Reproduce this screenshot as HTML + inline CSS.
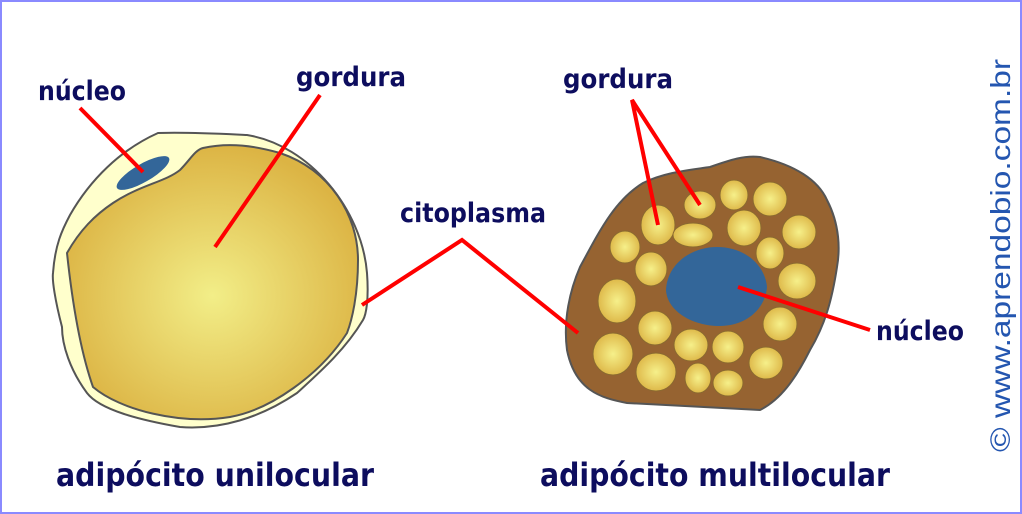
<!DOCTYPE html>
<html><head><meta charset="utf-8"><style>
html,body{margin:0;padding:0;background:#fff;}
svg{display:block;}
text{font-family:"DejaVu Sans","Liberation Sans",sans-serif;fill:#0d0d5e;font-weight:bold;}
</style></head><body>
<svg width="1022" height="514" viewBox="0 0 1022 514" xmlns="http://www.w3.org/2000/svg">
<defs>
<radialGradient id="fat" cx="50%" cy="55%" r="55%">
<stop offset="0" stop-color="#f2ee88"/><stop offset="1" stop-color="#dcb444"/>
</radialGradient>
<radialGradient id="drop" cx="50%" cy="50%" r="55%">
<stop offset="0" stop-color="#f6f08a"/><stop offset="1" stop-color="#dcb444"/>
</radialGradient>
</defs>
<rect x="1" y="1" width="1020" height="512" fill="#fff" stroke="#8a8aff" stroke-width="2"/>

<!-- unilocular -->
<path d="M158,133 C190,132 225,134 247,135 C310,145 362,210 367,273 C369,300 366,315 363,320 C345,350 320,372 297,393 C260,418 220,430 180,427 C140,420 100,410 87,393 C70,370 62,345 62,327 C55,300 52,280 53,273 C55,245 62,230 70,215 C90,180 120,150 158,133 Z" fill="#ffffcc" stroke="#555" stroke-width="2"/>
<path d="M203,148 C230,142 255,146 280,153 C330,170 358,215 358,260 C358,295 352,320 347,333 C320,375 270,410 230,417 C180,425 120,410 93,387 C80,350 72,300 67,253 C80,230 95,215 113,203 C140,185 165,182 180,170 C190,160 195,150 203,148 Z" fill="url(#fat)" stroke="#555" stroke-width="2"/>
<ellipse cx="143" cy="173" rx="30" ry="9" fill="#336699" transform="rotate(-30 143 173)"/>

<!-- multilocular -->
<path d="M760,157 C795,165 818,180 827,200 C840,225 840,250 837,267 C832,300 825,325 810,350 C795,380 780,400 760,410 C720,408 670,405 627,403 C600,398 575,390 567,350 C563,320 570,290 580,267 C600,230 615,200 643,183 C665,172 690,170 710,167 C730,160 745,155 760,157 Z" fill="#966331" stroke="#555" stroke-width="2"/>
<g fill="url(#drop)" stroke="#8a6a30" stroke-width="1">
<ellipse cx="658" cy="225" rx="17" ry="20"/>
<ellipse cx="700" cy="205" rx="16" ry="14"/>
<ellipse cx="734" cy="195" rx="14" ry="15"/>
<ellipse cx="770" cy="199" rx="17" ry="17"/>
<ellipse cx="693" cy="235" rx="20" ry="12"/>
<ellipse cx="744" cy="228" rx="17" ry="18"/>
<ellipse cx="625" cy="247" rx="15" ry="16"/>
<ellipse cx="799" cy="232" rx="17" ry="17"/>
<ellipse cx="770" cy="253" rx="14" ry="16"/>
<ellipse cx="651" cy="269" rx="16" ry="17"/>
<ellipse cx="797" cy="281" rx="19" ry="18"/>
<ellipse cx="617" cy="301" rx="19" ry="22"/>
<ellipse cx="780" cy="324" rx="17" ry="17"/>
<ellipse cx="655" cy="328" rx="17" ry="17"/>
<ellipse cx="613" cy="354" rx="20" ry="21"/>
<ellipse cx="691" cy="345" rx="17" ry="16"/>
<ellipse cx="728" cy="347" rx="16" ry="16"/>
<ellipse cx="766" cy="363" rx="17" ry="16"/>
<ellipse cx="656" cy="372" rx="20" ry="19"/>
<ellipse cx="698" cy="378" rx="13" ry="15"/>
<ellipse cx="728" cy="383" rx="15" ry="13"/>
</g>
<path d="M717,247 C745,247 765,265 767,287 C765,310 745,327 717,326 C690,325 667,310 666,290 C667,265 690,247 717,247 Z" fill="#336699"/>

<!-- red lines -->
<g stroke="#f00" stroke-width="4" fill="none">
<line x1="80" y1="108" x2="143" y2="172"/>
<line x1="320" y1="95" x2="215" y2="247"/>
<polyline points="362,305 462,240 578,333"/>
<polyline points="658,225 632,100 700,205"/>
<line x1="870" y1="330" x2="738" y2="287"/>
</g>

<text x="38" y="100" font-size="27" textLength="88" lengthAdjust="spacingAndGlyphs">núcleo</text>
<text x="296" y="86" font-size="27" textLength="110" lengthAdjust="spacingAndGlyphs">gordura</text>
<text x="400" y="222" font-size="27" textLength="146" lengthAdjust="spacingAndGlyphs">citoplasma</text>
<text x="563" y="88" font-size="27" textLength="110" lengthAdjust="spacingAndGlyphs">gordura</text>
<text x="876" y="340" font-size="27" textLength="88" lengthAdjust="spacingAndGlyphs">núcleo</text>
<text x="56" y="486" font-size="32" textLength="318" lengthAdjust="spacingAndGlyphs">adipócito unilocular</text>
<text x="540" y="486" font-size="32" textLength="350" lengthAdjust="spacingAndGlyphs">adipócito multilocular</text>
<text transform="translate(1010,452) rotate(-90)" font-size="28" style="fill:#2456b0;font-family:'Liberation Sans',sans-serif;font-weight:normal" textLength="393" lengthAdjust="spacingAndGlyphs">© www.aprendobio.com.br</text>
</svg>
</body></html>
